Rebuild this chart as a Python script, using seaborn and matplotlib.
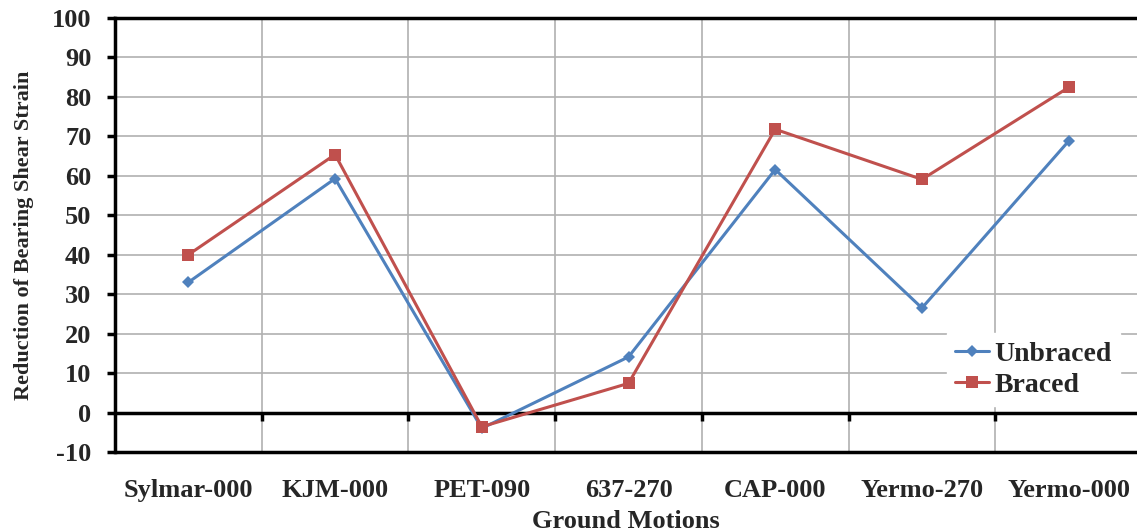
import matplotlib
matplotlib.use("Agg")
import matplotlib.pyplot as plt
import seaborn as sns
import pandas as pd
import numpy as np

motions = ["Sylmar-000", "KJM-000", "PET-090", "637-270", "CAP-000", "Yermo-270", "Yermo-000"]
unbraced = [33.0, 59.3, -4.0, 14.1, 61.6, 26.5, 68.8]
braced = [40.0, 65.4, -3.6, 7.4, 71.8, 59.1, 82.4]
y_ticks = list(range(-10, 101, 10))

sns.set_theme(style="white")
plt.rcParams['font.family'] = ['Liberation Serif', 'DejaVu Serif']
plt.rcParams['font.weight'] = 'bold'
plt.rcParams['axes.labelweight'] = 'bold'

df = pd.DataFrame({
    "Ground Motions": motions * 2,
    "value": unbraced + braced,
    "series": ["Unbraced"] * len(motions) + ["Braced"] * len(motions),
})

fig = plt.figure(figsize=(11.37, 5.31), dpi=100)
ax = fig.add_axes([115/1137, 1 - 452/531, 1027/1137, 434/531])

sns.lineplot(data=df, x="Ground Motions", y="value", hue="series", style="series",
             markers={"Unbraced": "D", "Braced": "s"}, dashes=False,
             palette={"Unbraced": "#4F81BD", "Braced": "#C0504D"},
             markersize=8, linewidth=2.2, markeredgewidth=0, sort=False, ax=ax, zorder=3)
for line in ax.lines:
    if line.get_marker() == "D":
        line.set_markersize(6)

ax.spines['bottom'].set_position(('data', 0))

ax.set_xlim(-0.5, 6.5)
ax.set_ylim(-10, 100)
ax.set_yticks(y_ticks)
ax.set_yticklabels([str(v) for v in y_ticks])
ax.set_xticks(range(len(motions)))
ax.set_xticklabels(motions)
ax.set_xticks(np.arange(0.5, len(motions) - 0.5, 1), minor=True)

ax.grid(True, axis='y', which='major', color='#b0b0b0', lw=1.2, zorder=0)
ax.grid(True, axis='x', which='minor', color='#b0b0b0', lw=1.2, zorder=0)
ax.grid(False, axis='x', which='major')

for s in ['left', 'bottom', 'top']:
    ax.spines[s].set_color('black')
    ax.spines[s].set_linewidth(2.5)
ax.spines['right'].set_visible(False)
ax.axhline(-10, color='black', lw=2.5, zorder=4, clip_on=False)

ax.tick_params(axis='y', which='major', direction='out', length=6, width=2.5, color='black',
               pad=11, left=True, labelsize=19)
ax.tick_params(axis='x', which='major', length=0, pad=48, labelsize=19)
ax.tick_params(axis='x', which='minor', direction='out', length=6, width=2.5, color='black', bottom=True)

ax.set_xlabel("Ground Motions", fontsize=19, fontweight='bold')
ax.set_ylabel("Reduction of Bearing Shear Strain", fontsize=16, fontweight='bold')
ax.xaxis.set_label_coords(0.4975, -0.133)
ax.yaxis.set_label_coords(-0.079, 0.5)

leg = ax.legend(loc='lower left', bbox_to_anchor=(0.81, 0.105), frameon=True, fancybox=False,
                framealpha=1.0, edgecolor='white', facecolor='white', borderaxespad=0,
                prop={'family': 'Liberation Serif', 'weight': 'bold', 'size': 20},
                handlelength=1.2, handletextpad=0.2, borderpad=0.3, labelspacing=0.2)
leg.set_zorder(5)

fig.savefig("out.png", dpi=100)
